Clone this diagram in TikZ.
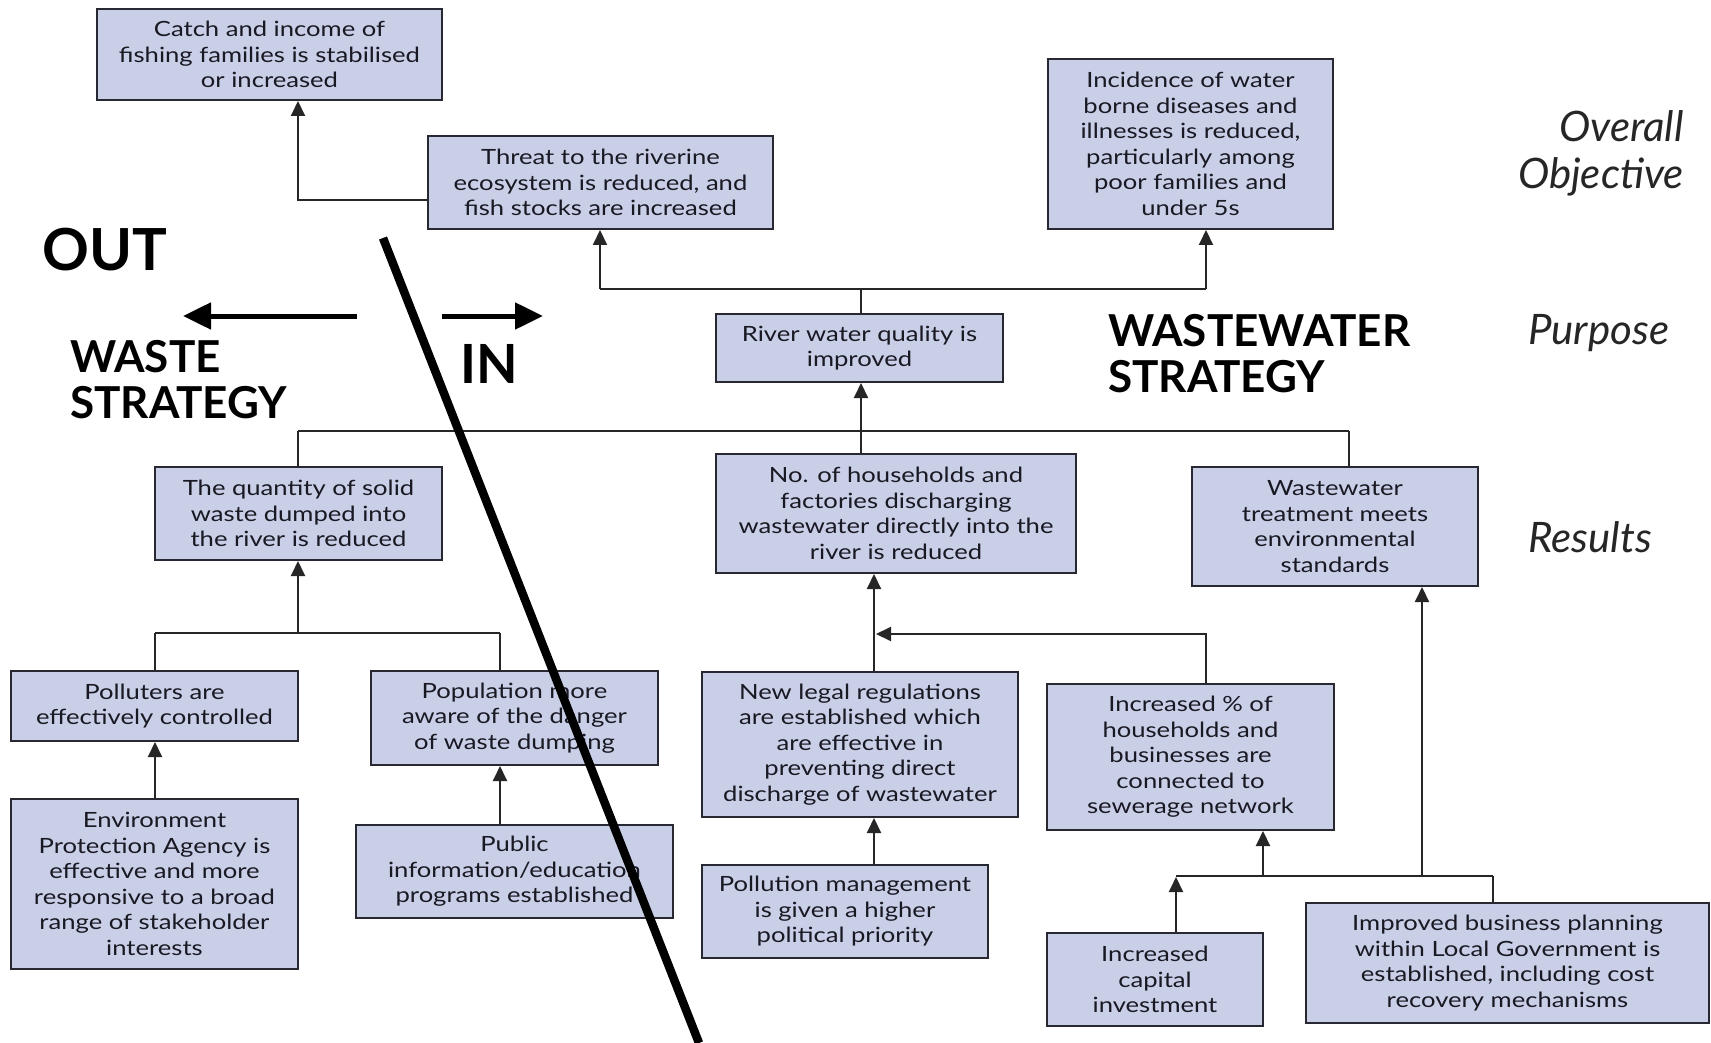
\documentclass[tikz,border=0pt]{standalone}
\usepackage{fontspec}
\setmainfont{Lato}
\newfontfamily\boxfont{Lato}[FakeStretch=1.22]
\usetikzlibrary{arrows.meta}
\definecolor{boxfill}{RGB}{202,207,232}
\definecolor{boxline}{RGB}{40,40,50}
\definecolor{txt}{RGB}{25,25,35}
\begin{document}
\begin{tikzpicture}[x=1pt,y=-1pt,
  box/.style={draw=boxline, line width=2pt, fill=boxfill, inner sep=0pt, align=center,
    font=\boxfont\fontsize{21}{25.5}\selectfont, text=txt},
  conn/.style={line width=2pt, draw=black!85},
  arr/.style={conn, -{Triangle[length=15pt,width=14pt]}},
  big/.style={line width=5pt, -{Triangle[length=28pt,width=26pt]}},
  head/.style={inner sep=0pt, font=\bfseries\fontsize{44}{46}\selectfont, text=black},
  lvl/.style={inner sep=0pt, font=\itshape\fontsize{42}{47}\selectfont, text=black!85},
]
\fill[white] (0,0) rectangle (1711,1043);
\useasboundingbox (0,0) rectangle (1711,1043);

% boxes
\node[box, minimum width=345pt, minimum height=91pt] (catch) at (269.5,54.5) {Catch and income of\\fishing families is stabilised\\or increased};
\node[box, minimum width=345pt, minimum height=93pt] (threat) at (600.5,182.5) {Threat to the riverine\\ecosystem is reduced, and\\fish stocks are increased};
\node[box, minimum width=285pt, minimum height=170pt] (incid) at (1190.5,144) {Incidence of water\\borne diseases and\\illnesses is reduced,\\particularly among\\poor families and\\under 5s};
\node[box, minimum width=287pt, minimum height=68pt] (river) at (859.5,348) {River water quality is\\improved};
\node[box, minimum width=287pt, minimum height=93pt] (quant) at (298.5,513.5) {The quantity of solid\\waste dumped into\\the river is reduced};
\node[box, minimum width=360pt, minimum height=119pt] (house) at (896,513.5) {No. of households and\\factories discharging\\wastewater directly into the\\river is reduced};
\node[box, minimum width=286pt, minimum height=119pt] (wwt) at (1335,526.5) {Wastewater\\treatment meets\\environmental\\standards};
\node[box, minimum width=287pt, minimum height=70pt] (poll) at (154.5,706) {Polluters are\\effectively controlled};
\node[box, minimum width=287pt, minimum height=94pt] (popu) at (514.5,718) {Population more\\aware of the danger\\of waste dumping};
\node[box, minimum width=287pt, minimum height=170pt] (epa) at (154.5,884) {Environment\\Protection Agency is\\effective and more\\responsive to a broad\\range of stakeholder\\interests};
\node[box, minimum width=317pt, minimum height=93pt] (publ) at (514.5,871.5) {Public\\information/education\\programs established};
\node[box, minimum width=316pt, minimum height=145pt] (legal) at (860,744.5) {New legal regulations\\are established which\\are effective in\\preventing direct\\discharge of wastewater};
\node[box, minimum width=287pt, minimum height=146pt] (incp) at (1190.5,757) {Increased \% of\\households and\\businesses are\\connected to\\sewerage network};
\node[box, minimum width=286pt, minimum height=93pt] (pmgmt) at (845,911.5) {Pollution management\\is given a higher\\political priority};
\node[box, minimum width=216pt, minimum height=93pt] (capi) at (1155,979.5) {Increased\\capital\\investment};
\node[box, minimum width=403pt, minimum height=120pt] (busi) at (1507.5,963) {Improved business planning\\within Local Government is\\established, including cost\\recovery mechanisms};

% junction coordinates
\coordinate (jA) at (298,200);
\coordinate (jT) at (861,289);
\coordinate (jTL) at (600,289);
\coordinate (jTR) at (1206,289);
\coordinate (jR1) at (298,431);
\coordinate (jR2) at (861,431);
\coordinate (jR3) at (1349,431);
\coordinate (jQ) at (298,633);
\coordinate (jQL) at (155,633);
\coordinate (jQR) at (500,633);
\coordinate (jH) at (874,634);
\coordinate (jI) at (1206,634);
\coordinate (jB1) at (1176,876);
\coordinate (jB2) at (1263,876);
\coordinate (jB3) at (1422,876);
\coordinate (jB4) at (1493,876);

% connectors
\draw[arr] (threat.west |- jA) -| (catch.south -| jA);
\draw[conn] (river.north -| jT) -- (jT);
\draw[conn] (jTL) -- (jTR);
\draw[arr] (jTL) -- (threat.south -| jTL);
\draw[arr] (jTR) -- (incid.south -| jTR);

\draw[conn] (jR1) -- (jR3);
\draw[conn] (jR1) -- (quant.north -| jR1);
\draw[conn] (jR2) -- (house.north -| jR2);
\draw[conn] (jR3) -- (wwt.north -| jR3);
\draw[arr] (jR2) -- (river.south -| jR2);

\draw[arr] (jQ) -- (quant.south -| jQ);
\draw[conn] (jQL) -- (jQR);
\draw[conn] (jQL) -- (poll.north -| jQL);
\draw[conn] (jQR) -- (popu.north -| jQR);
\draw[arr] (epa.north -| jQL) -- (poll.south -| jQL);
\draw[arr] (publ.north -| jQR) -- (popu.south -| jQR);

\draw[arr] (legal.north -| jH) -- (house.south -| jH);
\draw[arr] (incp.north -| jI) |- ([xshift=2pt]jH);
\draw[arr] (pmgmt.north -| jH) -- (legal.south -| jH);

\draw[conn] (jB1) -- (jB4);
\draw[conn] (jB4) -- (busi.north -| jB4);
\draw[arr] (capi.north -| jB1) -- ([yshift=-1pt]jB1);
\draw[arr] (jB2) -- (incp.south -| jB2);
\draw[arr] (jB3) -- (wwt.south -| jB3);

% headings
\node[head, anchor=west, font=\bfseries\fontsize{58}{58}\selectfont] (out) at (42,250) {OUT};
\node[head, anchor=west, align=left] (waste) at (70,380) {WASTE\\STRATEGY};
\node[head, anchor=west, font=\bfseries\fontsize{54}{54}\selectfont] (in) at (460,364) {IN};
\node[head, anchor=west, align=left] (wstr) at (1108,354) {WASTEWATER\\STRATEGY};
\node[lvl, anchor=east, align=right] (overall) at (1684,153) {Overall\\Objective};
\node[lvl, anchor=west] (purpose) at (1528,333) {Purpose};
\node[lvl, anchor=west] (results) at (1528,537) {Results};

% big arrows and divider
\coordinate (aL1) at (357,316);
\coordinate (aL2) at (183,316);
\coordinate (aR1) at (442,316);
\coordinate (aR2) at (543,316);
\draw[big] (aL1) -- (aL2);
\draw[big] (aR1) -- (aR2);
\coordinate (dA) at (383,238);
\coordinate (dB) at (699,1043);
\draw[line width=8.5pt] (dA) -- (dB);
\end{tikzpicture}
\end{document}
